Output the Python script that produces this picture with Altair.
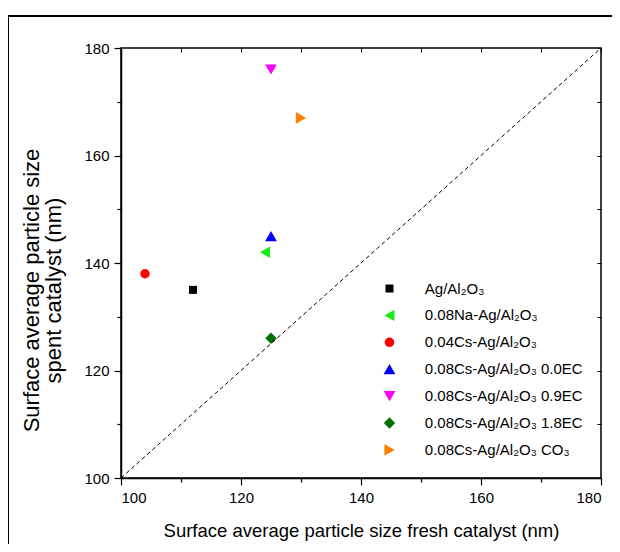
import altair as alt
import pandas as pd

samples = [
    "Ag/Al₂O₃",
    "0.08Na-Ag/Al₂O₃",
    "0.04Cs-Ag/Al₂O₃",
    "0.08Cs-Ag/Al₂O₃ 0.0EC",
    "0.08Cs-Ag/Al₂O₃ 0.9EC",
    "0.08Cs-Ag/Al₂O₃ 1.8EC",
    "0.08Cs-Ag/Al₂O₃ CO₃",
]
fresh = [112, 124, 104, 125, 125, 125, 130]
spent = [135, 142, 138, 145, 176, 126, 167]
shapes = ["square", "triangle-left", "circle", "triangle-up", "triangle-down", "diamond", "triangle-right"]
sizes = [64, 130, 90, 140, 140, 130, 140]
colors = ["#000000", "#11ee11", "#ff0000", "#0000ff", "#ff00ff", "#007000", "#ff8000"]
diag = [100, 180]
ticks = [100, 110, 120, 130, 140, 150, 160, 170, 180]

FONT = "Liberation Sans"
W, H = 480, 430

df = pd.DataFrame({"sample": samples, "fresh": fresh, "spent": spent})
ddf = pd.DataFrame({"x": diag, "y": diag})

major = "datum.value % 20 == 0"
xs = alt.Scale(domain=[100, 180], nice=False, zero=False)
ys = alt.Scale(domain=[100, 180], nice=False, zero=False)

def main_axis(orient, title, tpad, tsize, **kw):
    return alt.Axis(
        orient=orient,
        values=ticks,
        labelExpr=f"{major} ? datum.label : ''",
        tickSize={"condition": {"test": major, "value": 7}, "value": 4},
        tickColor="black", tickWidth=1.2,
        domainColor="black", domainWidth=1.5,
        labelFont=FONT, labelFontSize=15, labelColor="black", labelPadding=5,
        labelOverlap=False,
        title=title, titleFont=FONT, titleFontWeight="normal", titleColor="black",
        titleFontSize=tsize,
        titlePadding=tpad, grid=False, **kw
    )

x_axis = main_axis("bottom", "Surface average particle size fresh catalyst (nm)", 16, 18.5)
y_axis = main_axis("left", ["Surface average particle size", "spent catalyst (nm)"], 18, 22,
                   titleLineHeight=22, titleY=242)

leg = alt.Legend(
    orient="none", legendX=261, legendY=233, title=None,
    labelFont=FONT, labelFontSize=15, labelColor="black", labelLimit=400,
    rowPadding=10.9, labelOffset=27.8, padding=0,
    symbolStrokeWidth=0, symbolOpacity=1,
)

points = alt.Chart(df).mark_point(filled=True, opacity=1).encode(
    x=alt.X("fresh:Q", scale=xs, axis=x_axis),
    y=alt.Y("spent:Q", scale=ys, axis=y_axis),
    color=alt.Color("sample:N", scale=alt.Scale(domain=samples, range=colors), legend=leg),
    shape=alt.Shape("sample:N", scale=alt.Scale(domain=samples, range=shapes), legend=leg),
    size=alt.Size("sample:N", scale=alt.Scale(type="ordinal", domain=samples, range=sizes), legend=leg),
)

inner_x = alt.Axis(orient="bottom", offset=-H, values=ticks, labels=False, title="",
                   tickSize=4, tickColor="black", domain=False, grid=False)
inner_y = alt.Axis(orient="left", offset=-W, values=ticks, labels=False, title="",
                   tickSize=4, tickColor="black", domain=False, grid=False)

line = alt.Chart(ddf).mark_line(color="black", strokeDash=[4, 3], strokeWidth=1).encode(
    x=alt.X("x:Q", scale=xs, axis=inner_x),
    y=alt.Y("y:Q", scale=ys, axis=inner_y),
)

frame = alt.Chart(pd.DataFrame({"k": [0]})).mark_rect(
    fillOpacity=0, stroke="black", strokeWidth=2
).encode(
    x=alt.value(-113), x2=alt.value(W + 200),
    y=alt.value(-32), y2=alt.value(H + 200),
)

chart = alt.layer(points, line, frame).resolve_axis(
    x="independent", y="independent"
).properties(
    width=W, height=H,
    autosize=alt.AutoSizeParams(type="none"),
    padding={"left": 113, "top": 40, "right": 11, "bottom": 66},
    background="white",
).configure_view(stroke="black", strokeWidth=1.5)

chart.save("out.html", embed_options={"renderer": "svg", "actions": False})
